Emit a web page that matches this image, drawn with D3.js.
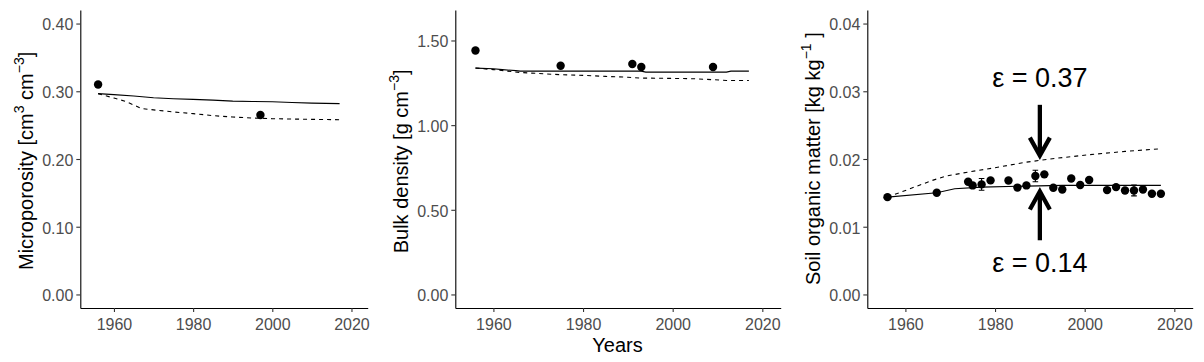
<!DOCTYPE html>
<html>
<head>
<meta charset="utf-8">
<script src="https://cdn.jsdelivr.net/npm/d3@7"></script>
<style>
  body { margin: 0; background: #fff; }
  text { font-family: "Liberation Sans", Arial, sans-serif; }
</style>
</head>
<body>
<script>

// Solid line = model fitted with eps = 0.14, dashed = eps = 0.37.

const xTickYears = [1960, 1980, 2000, 2020];

// Microporosity [cm3 cm-3]
const microObsYears = [1956, 1997];
const microObs = [0.310, 0.265];
const microSolidYears = [1956, 1960, 1965, 1970, 1975, 1980, 1985, 1990, 1995, 2000, 2005, 2010, 2017];
const microSolid = [0.2965, 0.2950, 0.2930, 0.2905, 0.2890, 0.2880, 0.2870, 0.2855, 0.2850, 0.2845, 0.2835, 0.2825, 0.2817];
const microDashedYears = [1956, 1960, 1963, 1967, 1970, 1975, 1980, 1985, 1990, 1995, 2000, 2005, 2010, 2017];
const microDashed = [0.2965, 0.2900, 0.2850, 0.2745, 0.2725, 0.2695, 0.2670, 0.2640, 0.2620, 0.2605, 0.2595, 0.2590, 0.2585, 0.2580];
const microTicks = [0, 0.1, 0.2, 0.3, 0.4];

// Bulk density [g cm-3]
const bulkObsYears = [1956, 1975, 1991, 1993, 2009];
const bulkObs = [1.441, 1.351, 1.361, 1.343, 1.343];
const bulkSolidYears = [1956, 1960, 1962, 1965, 1966, 1993, 1994, 2012, 2013, 2017];
const bulkSolid = [1.337, 1.333, 1.328, 1.322, 1.319, 1.319, 1.313, 1.313, 1.319, 1.319];
const bulkDashedYears = [1956, 1960, 1966, 1970, 1975, 1980, 1985, 1990, 1993, 2000, 2005, 2012, 2017];
const bulkDashed = [1.337, 1.328, 1.311, 1.305, 1.298, 1.294, 1.288, 1.283, 1.278, 1.276, 1.274, 1.264, 1.264];
const bulkTicks = [0, 0.5, 1.0, 1.5];

// Soil organic matter [kg kg-1]
const somObsYears = [1956, 1967, 1974, 1975, 1977, 1979, 1983, 1985, 1987, 1989, 1991, 1993,
                     1995, 1997, 1999, 2001, 2005, 2007, 2009, 2011, 2013, 2015, 2017];
const somObs = [0.01437, 0.01502, 0.01665, 0.01610, 0.01625, 0.01684, 0.01682, 0.01578, 0.01610, 0.01750, 0.01773, 0.01575,
                0.01550, 0.01711, 0.01617, 0.01690, 0.01541, 0.01585, 0.01536, 0.01536, 0.01550, 0.01487, 0.01487];
const somErr = [0, 0, 0, 0, 0.00086, 0, 0, 0, 0, 0.00085, 0, 0,
                0, 0, 0, 0, 0, 0, 0, 0.0008, 0, 0, 0];
const somSolidYears = [1956, 1967, 1971, 1977, 1987, 1995, 2017];
const somSolid = [0.01437, 0.01502, 0.01561, 0.01585, 0.01600, 0.01610, 0.01610];
const somDashedYears = [1956, 1962, 1966, 1969, 1974, 1980, 1987, 1994, 2001, 2009, 2017];
const somDashed = [0.01437, 0.01585, 0.01684, 0.01747, 0.01807, 0.01871, 0.01954, 0.02013, 0.02063, 0.02112, 0.02152];
const somTicks = [0, 0.01, 0.02, 0.03, 0.04];

// Annotation arrows on the SOM panel
const arrowYear = 1990;
const epsLabels = ["ε = 0.37", "ε = 0.14"];
const epsLabelY = [0.032, 0.0047];
const arrowFrom = [0.028, 0.008];
const arrowTo = [0.0205, 0.0152];

////////////////////////////////////////////////////////////////////////////////

const width = 1204;
const height = 362;
const panelTop = 10, panelBottom = 308;

const svg = d3.select("body")
    .append("svg")
    .attr("width", width)
    .attr("height", height);

svg.append("rect")
    .attr("width", width)
    .attr("height", height)
    .attr("fill", "#fff");

const zip = (xs, ys) => xs.map((x, i) => ({ year: x, value: ys[i] }));

const panels = [
  {
    left: 80.3, right: 367.7, yMax: 0.4, ticks: microTicks,
    obs: zip(microObsYears, microObs), err: null,
    solid: zip(microSolidYears, microSolid), dashed: zip(microDashedYears, microDashed),
    title: [["Microporosity [cm"], ["3", 1], [" cm"], ["\u22123", 1], ["]"]],
    titleX: 33.4, titleStart: 270
  },
  {
    left: 455.3, right: 780.7, yMax: 1.6, ticks: bulkTicks,
    obs: zip(bulkObsYears, bulkObs), err: null,
    solid: zip(bulkSolidYears, bulkSolid), dashed: zip(bulkDashedYears, bulkDashed),
    title: [["Bulk density [g cm"], ["\u22123", 1], ["]"]],
    titleX: 407.5, titleStart: 253.3
  },
  {
    left: 867.3, right: 1192.7, yMax: 0.04, ticks: somTicks,
    obs: zip(somObsYears, somObs), err: somErr,
    solid: zip(somSolidYears, somSolid), dashed: zip(somDashedYears, somDashed),
    title: [["Soil organic matter [kg kg"], ["\u22121", 1], [" ]"]],
    titleX: 820, titleStart: 285
  }
];

panels.forEach(function (p, idx) {

  let x = d3.scaleLinear().domain([1951.5, 2024.1]).range([p.left, p.right]);
  let y = d3.scaleLinear().domain([-0.05 * p.yMax, 1.05 * p.yMax]).range([panelBottom, panelTop]);

  let g = svg.append("g");

  // axes
  let yAxis = g.append("g")
      .attr("transform", "translate(" + p.left + ",0)")
      .call(d3.axisLeft(y).tickValues(p.ticks).tickSize(4).tickSizeOuter(0)
            .tickPadding(3).tickFormat(d3.format(".2f")));

  let xAxis = g.append("g")
      .attr("transform", "translate(0," + panelBottom + ")")
      .call(d3.axisBottom(x).tickValues(xTickYears).tickSize(4).tickSizeOuter(0)
            .tickPadding(6.5).tickFormat(d3.format("d")));

  [yAxis, xAxis].forEach(function (a) {
    a.select(".domain").attr("stroke", "#000").attr("stroke-width", 1.1);
    a.selectAll(".tick line").attr("stroke", "#333").attr("stroke-width", 1.1);
    a.selectAll(".tick text")
        .attr("fill", "#4d4d4d")
        .style("font-size", "16px")
        .style("font-family", "'Liberation Sans', Arial, sans-serif");
  });
  yAxis.selectAll(".tick text").attr("dy", "0.4em");

  // y title with superscripts
  let title = g.append("text")
      .attr("transform", "translate(" + p.titleX + "," + p.titleStart + ") rotate(-90)")
      .attr("text-anchor", "start")
      .attr("fill", "#000")
      .style("font-size", "20px");

  p.title.forEach(function (part, i) {
    let t = title.append("tspan").text(part[0]);
    if (part[1]) {
      t.style("font-size", "14px").attr("dy", -9);
    } else if (i > 0) {
      t.attr("dy", 9);
    }
  });

  // model lines
  let line = d3.line()
      .x(function (d) { return x(d.year); })
      .y(function (d) { return y(d.value); });

  g.append("path")
      .datum(p.solid)
      .attr("d", line)
      .attr("fill", "none")
      .attr("stroke", "#000")
      .attr("stroke-width", 1.1);

  g.append("path")
      .datum(p.dashed)
      .attr("d", line)
      .attr("fill", "none")
      .attr("stroke", "#000")
      .attr("stroke-width", 1.1)
      .attr("stroke-dasharray", "4,4");

  // observations
  g.selectAll(".pt")
      .data(p.obs)
      .enter()
          .append("circle")
          .attr("cx", function (d) { return x(d.year); })
          .attr("cy", function (d) { return y(d.value); })
          .attr("r", 4.2)
          .attr("fill", "#000");

  if (p.err) {
    let bars = p.obs.map(function (d, i) {
      return { year: d.year, lo: d.value - p.err[i], hi: d.value + p.err[i] };
    }).filter(function (d) { return d.hi > d.lo; });

    g.selectAll(".eb")
        .data(bars)
        .enter()
            .append("path")
            .attr("fill", "none")
            .attr("stroke", "#000")
            .attr("stroke-width", 1.1)
            .attr("d", function (d) {
              let cx = x(d.year), y0 = y(d.lo), y1 = y(d.hi);
              return "M" + (cx - 2.8) + "," + y1 + "H" + (cx + 2.8) +
                     "M" + cx + "," + y1 + "V" + y0 +
                     "M" + (cx - 2.8) + "," + y0 + "H" + (cx + 2.8);
            });
  }

  // arrows + epsilon labels on the SOM panel
  if (idx === 2) {
    let ax = x(arrowYear);

    arrowFrom.forEach(function (v, i) {
      let y0 = y(v), y1 = y(arrowTo[i]);
      let dir = y1 > y0 ? 1 : -1;
      g.append("path")
          .attr("d", "M" + ax + "," + y0 + "V" + (y1 - dir * 2))
          .attr("stroke", "#000")
          .attr("stroke-width", 4.3)
          .attr("fill", "none");
      g.append("path")
          .attr("d", "M" + (ax - 10) + "," + (y1 - dir * 18) + "L" + ax + "," + y1 +
                     "L" + (ax + 10) + "," + (y1 - dir * 18))
          .attr("stroke", "#000")
          .attr("stroke-width", 4.3)
          .attr("stroke-linejoin", "miter")
          .attr("fill", "none");
    });

    g.selectAll(".eps")
        .data(epsLabels)
        .enter()
            .append("text")
            .attr("x", ax)
            .attr("y", function (d, i) { return y(epsLabelY[i]); })
            .attr("dy", "0.36em")
            .attr("text-anchor", "middle")
            .attr("fill", "#000")
            .style("font-size", "27px")
            .text(function (d) { return d; });
  }
});

// shared x title under the middle panel
svg.append("text")
    .attr("x", 617.5)
    .attr("y", 351.7)
    .attr("text-anchor", "middle")
    .attr("fill", "#000")
    .style("font-size", "20px")
    .text("Years");

</script>
</body>
</html>
